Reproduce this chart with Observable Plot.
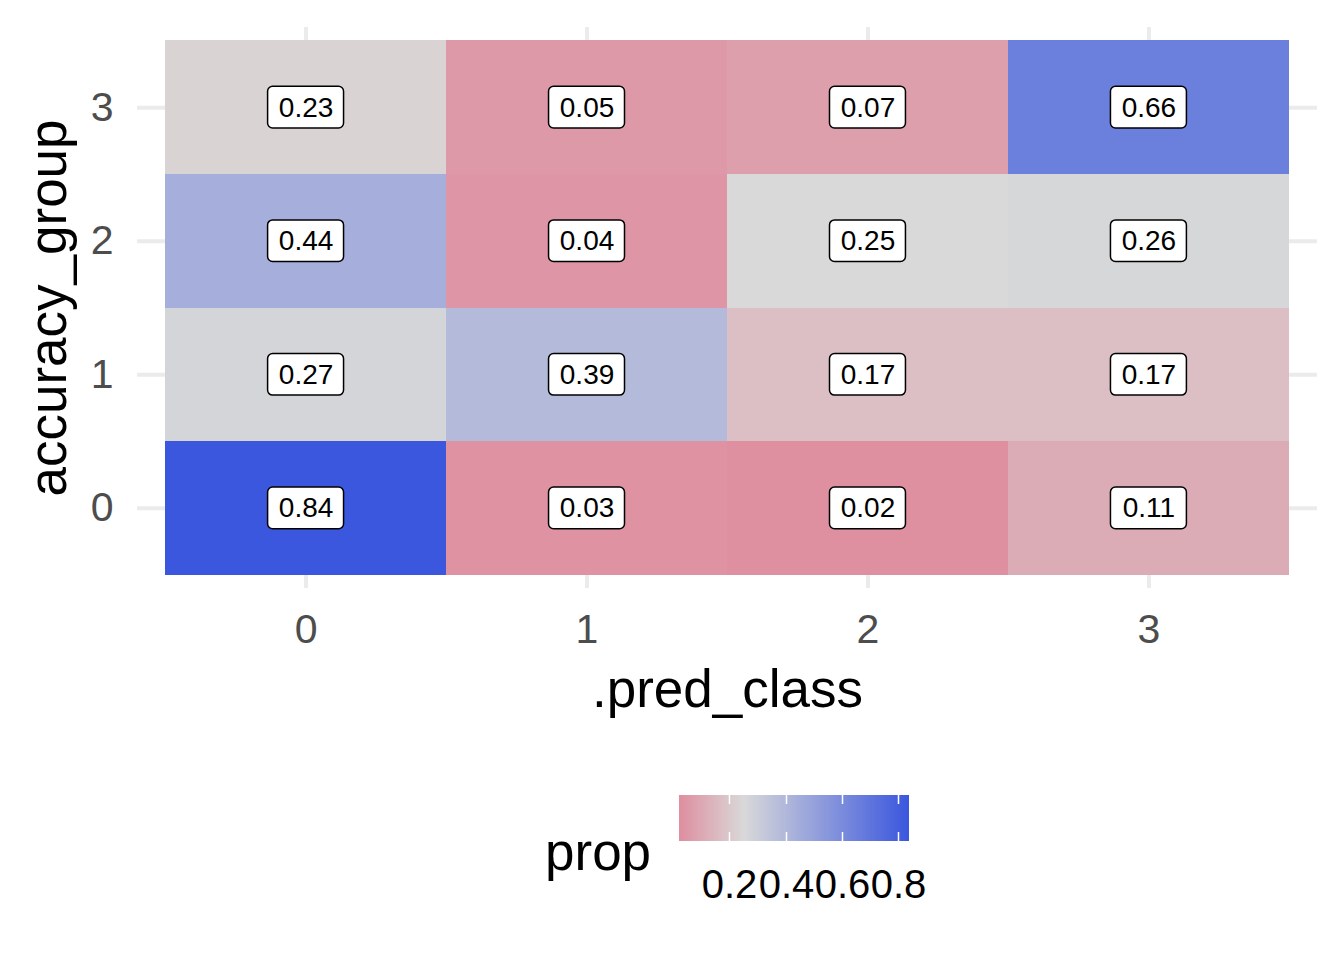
<!DOCTYPE html>
<html>
<head>
<meta charset="utf-8">
<script src="https://cdn.jsdelivr.net/npm/d3@7"></script>
<script src="https://cdn.jsdelivr.net/npm/@observablehq/plot@0.6"></script>
<style>
  html, body { margin: 0; padding: 0; background: #ffffff; }
  #wrap { position: relative; width: 1344px; height: 960px; background: #ffffff; font-family: "Liberation Sans", Arial, Helvetica, sans-serif; }
  #chart { position: absolute; left: 0; top: 0; }
  #legendTitle { position: absolute; left: 545px; top: 825px; font-size: 53px; line-height: 53px; color: #000; }
  #legend { position: absolute; left: 679px; top: 795px; }
  #legend svg { overflow: visible; }
</style>
</head>
<body>
<div id="wrap">
  <div id="chart"></div>
  <div id="legendTitle">prop</div>
  <div id="legend"></div>
</div>
<script>
// ---- data ----
const predClass     = [0, 1, 2, 3,   0, 1, 2, 3,   0, 1, 2, 3,   0, 1, 2, 3];
const accuracyGroup = [0, 0, 0, 0,   1, 1, 1, 1,   2, 2, 2, 2,   3, 3, 3, 3];
const prop          = [0.84, 0.03, 0.02, 0.11,
                       0.27, 0.39, 0.17, 0.17,
                       0.44, 0.04, 0.25, 0.26,
                       0.23, 0.05, 0.07, 0.66];
const xTicks = [0, 1, 2, 3];
const yTicks = [0, 1, 2, 3];
const legendTicks = [0.2, 0.4, 0.6, 0.8];
const midpoint = 0.25;

const data = predClass.map((c, i) => ({
  pred: c, acc: accuracyGroup[i], prop: prop[i], label: prop[i].toFixed(2)
}));

// ---- colour (diverging around midpoint) ----
const lowC = "#DE8FA0", midC = "#D9D9D9", highC = "#3B57DE";
const ext = d3.extent(prop);
const tm = (midpoint - ext[0]) / (ext[1] - ext[0]);
const iLow = d3.interpolateRgb(lowC, midC), iHigh = d3.interpolateRgb(midC, highC);
const interp = t => t <= tm ? iLow(t / tm) : iHigh((t - tm) / (1 - tm));
const colorOpts = {type: "linear", domain: ext, interpolate: interp};

const font = "'Liberation Sans', Arial, Helvetica, sans-serif";
const W = 1344, H = 720;

const chart = Plot.plot({
  width: W, height: H,
  marginLeft: 137, marginRight: 27, marginTop: 27, marginBottom: H - 588,
  style: {fontFamily: font, background: "#ffffff"},
  x: {domain: [-0.6, 3.6]},
  y: {domain: [-0.6, 3.6]},
  color: colorOpts,
  marks: [
    Plot.gridX(xTicks, {stroke: "#EBEBEB", strokeOpacity: 1, strokeWidth: 4}),
    Plot.gridY(yTicks, {stroke: "#EBEBEB", strokeOpacity: 1, strokeWidth: 4}),
    Plot.rect(data, {
      x1: d => d.pred - 0.5, x2: d => d.pred + 0.5,
      y1: d => d.acc - 0.5, y2: d => d.acc + 0.5,
      fill: "prop", shapeRendering: "crispEdges"
    }),
    Plot.rect(data, {
      x1: d => d.pred - 0.5, x2: d => d.pred + 0.5,
      y1: d => d.acc - 0.5, y2: d => d.acc + 0.5,
      insetLeft: 102.5, insetRight: 102.5, insetTop: 46, insetBottom: 46,
      rx: 5, fill: "white", stroke: "black", strokeWidth: 1.5
    }),
    Plot.text(data, {x: "pred", y: "acc", text: "label", fontSize: 28, fill: "black"}),
    Plot.axisX(xTicks, {
      tickSize: 0, tickPadding: 25, fontSize: 41, color: "#4D4D4D",
      tickFormat: d => String(d),
      label: ".pred_class", labelAnchor: "center", labelOffset: 118
    }),
    Plot.axisY(yTicks, {
      tickSize: 0, tickPadding: 24, fontSize: 41, color: "#4D4D4D",
      tickFormat: d => String(d),
      label: "accuracy_group", labelAnchor: "center", labelOffset: 109
    })
  ]
});
const svg = d3.select(chart.tagName === "svg" ? chart : chart.querySelector("svg"));
svg.selectAll('g[aria-label="x-axis label"], g[aria-label="y-axis label"]')
  .attr("font-size", 53).attr("fill", "#000000");
svg.selectAll('g[aria-label="x-axis label"] text, g[aria-label="y-axis label"] text')
  .text(function () { return this.textContent.replace(/\s*[→↑↓←]\s*/g, ""); });
document.getElementById("chart").appendChild(chart);

// ---- legend ----
const legend = Plot.legend({
  color: colorOpts,
  width: 260, height: 110,
  marginLeft: 0, marginRight: 30, marginTop: 0, marginBottom: 64,
  tickSize: 0, ticks: legendTicks.length, label: null,
  tickFormat: d => String(d),
  style: {fontFamily: font, fontSize: "40px", color: "#000000", overflow: "visible"}
});
const lsvg = d3.select(legend.tagName === "svg" ? legend : legend.querySelector("svg"));
lsvg.selectAll(".tick line").attr("stroke", "white").attr("stroke-width", 1.5)
  .attr("stroke-dasharray", "9 28 9");
lsvg.selectAll(".tick text").attr("y", 29).attr("fill", "#000000").attr("font-size", 40);
lsvg.selectAll(".domain").remove();
document.getElementById("legend").appendChild(legend);
</script>
</body>
</html>
